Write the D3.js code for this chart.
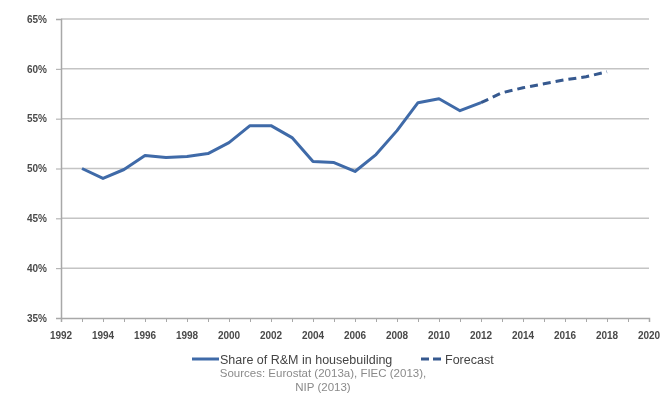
<!DOCTYPE html>
<html>
<head>
<meta charset="utf-8">
<script src="https://cdn.jsdelivr.net/npm/d3@7"></script>
<style>
  html, body { margin: 0; padding: 0; background: #fff; }
  svg { display: block; filter: blur(0.5px); }
</style>
</head>
<body>
<div id="chart"></div>
<script>
// Share of R&M in housebuilding, actual + forecast (%)
const years = [1993, 1994, 1995, 1996, 1997, 1998, 1999, 2000, 2001, 2002,
  2003, 2004, 2005, 2006, 2007, 2008, 2009, 2010, 2011, 2012];
const share = [50.0, 49.0, 49.9, 51.3, 51.1, 51.2, 51.5, 52.6, 54.3, 54.3,
  53.1, 50.7, 50.6, 49.7, 51.4, 53.8, 56.6, 57.0, 55.8, 56.6];
const forecastYears = [2012, 2013, 2014, 2015, 2016, 2017, 2018];
const forecast = [56.6, 57.6, 58.1, 58.5, 58.9, 59.2, 59.7];
const yTicks = [35, 40, 45, 50, 55, 60, 65];
const xTicks = [1992, 1994, 1996, 1998, 2000, 2002, 2004, 2006, 2008, 2010, 2012, 2014, 2016, 2018, 2020];
const seriesNames = ['Share of R&M in housebuilding', 'Forecast'];
const sourceLines = ['Sources: Eurostat (2013a), FIEC (2013),', 'NIP (2013)'];

const width = 668, height = 397;
const margin = { top: 19, right: 19, bottom: 79, left: 61 };
const innerW = width - margin.left - margin.right;
const innerH = height - margin.top - margin.bottom;
const blue = '#3f6aa8';
const font = '"Liberation Sans", Arial, sans-serif';

const x = d3.scaleLinear().domain([1992, 2020]).range([0, innerW]);
const y = d3.scaleLinear().domain([35, 65]).range([innerH, 0]);

const svg = d3.select('#chart').append('svg')
  .attr('width', width).attr('height', height)
  .style('font-family', font);

const g = svg.append('g').attr('transform', `translate(${margin.left},${margin.top})`);

// gridlines
g.append('g')
  .selectAll('line')
  .data(yTicks.slice(1))
  .join('line')
  .attr('x1', 0).attr('x2', innerW)
  .attr('y1', (d) => y(d)).attr('y2', (d) => y(d))
  .attr('stroke', '#c4c4c4').attr('stroke-width', 1.5);

// y axis
const yAxis = g.append('g').call(d3.axisLeft(y).tickValues(yTicks).tickSize(5).tickFormat((d) => d + '%'));
yAxis.select('.domain').attr('stroke', '#a8a8a8').attr('stroke-width', 1.5);
yAxis.selectAll('.tick line').attr('stroke', '#a8a8a8');
yAxis.selectAll('.tick text').attr('x', -14).attr('fill', '#4a4a4a')
  .style('font-size', '10px').style('font-family', font).style('font-weight', 'bold');

// x axis with yearly tick marks
const xAxis = g.append('g').attr('transform', `translate(0,${innerH})`)
  .call(d3.axisBottom(x).tickValues(d3.range(1992, 2021)).tickSize(4).tickFormat(''));
xAxis.select('.domain').attr('stroke', '#a8a8a8').attr('stroke-width', 1.5);
xAxis.selectAll('.tick line').attr('stroke', '#a8a8a8');

g.append('g')
  .selectAll('text')
  .data(xTicks)
  .join('text')
  .attr('x', (d) => x(d)).attr('y', innerH + 21)
  .attr('text-anchor', 'middle')
  .attr('fill', '#4a4a4a')
  .style('font-size', '10px').style('font-weight', 'bold')
  .text((d) => d);

const line = d3.line().x((d) => x(d[0])).y((d) => y(d[1]));

g.append('path')
  .datum(years.map((yr, i) => [yr, share[i]]))
  .attr('fill', 'none').attr('stroke', blue)
  .attr('stroke-width', 3).attr('stroke-linejoin', 'round')
  .attr('d', line);

g.append('path')
  .datum(forecastYears.map((yr, i) => [yr, forecast[i]]))
  .attr('fill', 'none').attr('stroke', '#36598f')
  .attr('stroke-width', 3).attr('stroke-dasharray', '8,5')
  .attr('d', line);

// legend
const legend = svg.append('g').attr('transform', 'translate(192,359)');
legend.append('line').attr('x1', 0).attr('x2', 27).attr('y1', 0).attr('y2', 0)
  .attr('stroke', blue).attr('stroke-width', 3);
legend.append('text').attr('x', 28).attr('y', 4.5).attr('fill', '#444')
  .style('font-size', '12.5px').text(seriesNames[0]);
legend.append('line').attr('x1', 229).attr('x2', 251).attr('y1', 0).attr('y2', 0)
  .attr('stroke', '#36598f').attr('stroke-width', 3).attr('stroke-dasharray', '8,4');
legend.append('text').attr('x', 253).attr('y', 4.5).attr('fill', '#444')
  .style('font-size', '12.5px').text(seriesNames[1]);

svg.append('g')
  .selectAll('text')
  .data(sourceLines)
  .join('text')
  .attr('x', 323)
  .attr('y', (d, i) => 377 + i * 14)
  .attr('text-anchor', 'middle')
  .attr('fill', '#8a8a8a')
  .style('font-size', '11.5px')
  .text((d) => d);
</script>
</body>
</html>
